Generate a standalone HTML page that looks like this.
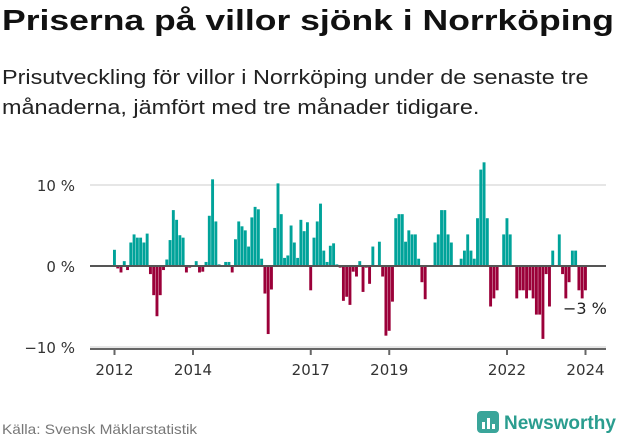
<!DOCTYPE html>
<html><head><meta charset="utf-8">
<style>
body{margin:0;background:#fff;font-family:"Liberation Sans","DejaVu Sans",sans-serif;}
#wrap{position:relative;width:631px;height:439px;overflow:hidden;}
h1{position:absolute;left:2px;top:5px;margin:0;font-size:29px;font-weight:bold;color:#111;white-space:nowrap;transform-origin:0 0;transform:scaleX(1.225);}
.sub{position:absolute;left:2px;top:63px;margin:0;font-size:20px;line-height:30px;color:#222;white-space:nowrap;transform-origin:0 0;transform:scaleX(1.17);}
.src{position:absolute;left:2px;top:421px;font-size:14px;color:#777;transform-origin:0 0;transform:scaleX(1.1);}
.logo{position:absolute;left:476px;top:410px;font-size:19px;font-weight:bold;color:#2a9d8f;}
</style></head><body>
<div id="wrap">
<h1>Priserna på villor sjönk i Norrköping</h1>
<p class="sub">Prisutveckling för villor i Norrköping under de senaste tre<br>månaderna, jämfört med tre månader tidigare.</p>
<svg id="chart" width="631" height="439" style="position:absolute;left:0;top:0"></svg>
<div class="src">Källa: Svensk Mäklarstatistik</div>
<div class="logo"><svg width="24" height="24" viewBox="0 0 24 24" style="vertical-align:-5px;margin-right:4px"><rect x="1" y="1" width="22" height="22" rx="4" fill="#3aa59a"/><rect x="6" y="12" width="3" height="7" fill="#fff"/><rect x="11" y="8" width="3" height="11" fill="#fff"/><rect x="16" y="14" width="3" height="5" fill="#fff"/></svg>Newsworthy</div>
</div>
<script>
const startYear = 2012;
const values = [
2.0,-0.3,-0.8,0.6,-0.5,2.9,3.9,3.5,3.5,2.9,4.0,-1.0,
-3.6,-6.2,-3.6,-0.5,0.8,3.2,6.9,5.7,3.8,3.5,-0.8,-0.2,
0,0.6,-0.8,-0.7,0.5,6.2,10.7,5.5,0.2,0,0.5,0.5,
-0.8,3.3,5.5,4.9,4.4,2.4,6.0,7.3,7.0,0.9,-3.4,-8.4,
-2.9,4.7,10.2,6.4,1.0,1.3,5.0,2.9,1.0,5.7,4.3,5.4,
-3.0,3.5,5.5,7.7,1.9,0.5,2.5,2.8,0.2,-0.2,-4.3,-3.8,
-4.8,-0.7,-1.3,0.6,-3.2,-0.2,-2.2,2.4,0,3.0,-1.3,-8.6,
-8.0,-4.4,5.9,6.4,6.4,3.0,4.4,3.9,3.9,0.9,-2.0,-4.1,
0,0,2.9,3.9,6.9,6.9,3.9,2.9,0,0,0.9,1.9,
3.9,1.9,0.9,5.9,11.9,12.8,5.9,-5.0,-4.0,-3.0,0,3.9,
5.9,3.9,0,-4.0,-3.0,-3.0,-4.0,-3.0,-4.0,-6.0,-6.0,-9.0,
-1.0,-5.0,1.9,0,3.9,-1.0,-4.0,-2.0,1.9,1.9,-3.0,-4.0,
-3.0];
const yTicks = [10,0,-10];
const yTickLabels = ["10 %","0 %","−10 %"];
const xTicks = [2012,2014,2017,2019,2022,2024];
const lastLabel = "−3 %";

const svg = document.getElementById('chart');
const NS = 'http://www.w3.org/2000/svg';
const FONT = 'DejaVu Sans, Liberation Sans, sans-serif';
const y = v => 266 - v*8.1;
const x = m => 113 + m*39.25/12;
function mk(tag, attrs){const e=document.createElementNS(NS,tag);for(const k in attrs)e.setAttribute(k,attrs[k]);svg.appendChild(e);return e;}
yTicks.forEach((t,i)=>{
  const l = mk('line',{x1:90,x2:606,y1:y(t),y2:y(t),stroke:t===0?'#555':'#ddd','stroke-width':t===0?2:1.5});
  
  
  const tx = mk('text',{x:75,y:y(t)+6,'text-anchor':'end','font-size':15,fill:'#333','font-family':FONT});
  tx.textContent = yTickLabels[i];
  
  
});
values.forEach((v,i)=>{
  const top = Math.min(y(v), y(0)), h = Math.abs(y(v)-y(0));
  const r = mk('rect',{x:x(i),y:top,width:2.9,height:Math.max(h,0),fill:v>=0?'#00a39a':'#9b0039'});
  
  
});
const z = mk('line',{x1:90,x2:606,y1:y(0),y2:y(0),stroke:'#555','stroke-width':2});


const ax = mk('line',{x1:90,x2:606,y1:349,y2:349,stroke:'#666','stroke-width':2});


xTicks.forEach(t=>{
  const px = x((t-startYear)*12)+1.5;
  const tk = mk('line',{x1:px,x2:px,y1:349,y2:355,stroke:'#666','stroke-width':2});
  
  
  const tx = mk('text',{x:px,y:375,'text-anchor':'middle','font-size':15,fill:'#333','font-family':FONT});
  tx.textContent = t;
  
  
});
const ll = mk('text',{x:563,y:314,'font-size':16,fill:'#222','font-family':FONT});
ll.textContent = lastLabel;


</script>
</body></html>
